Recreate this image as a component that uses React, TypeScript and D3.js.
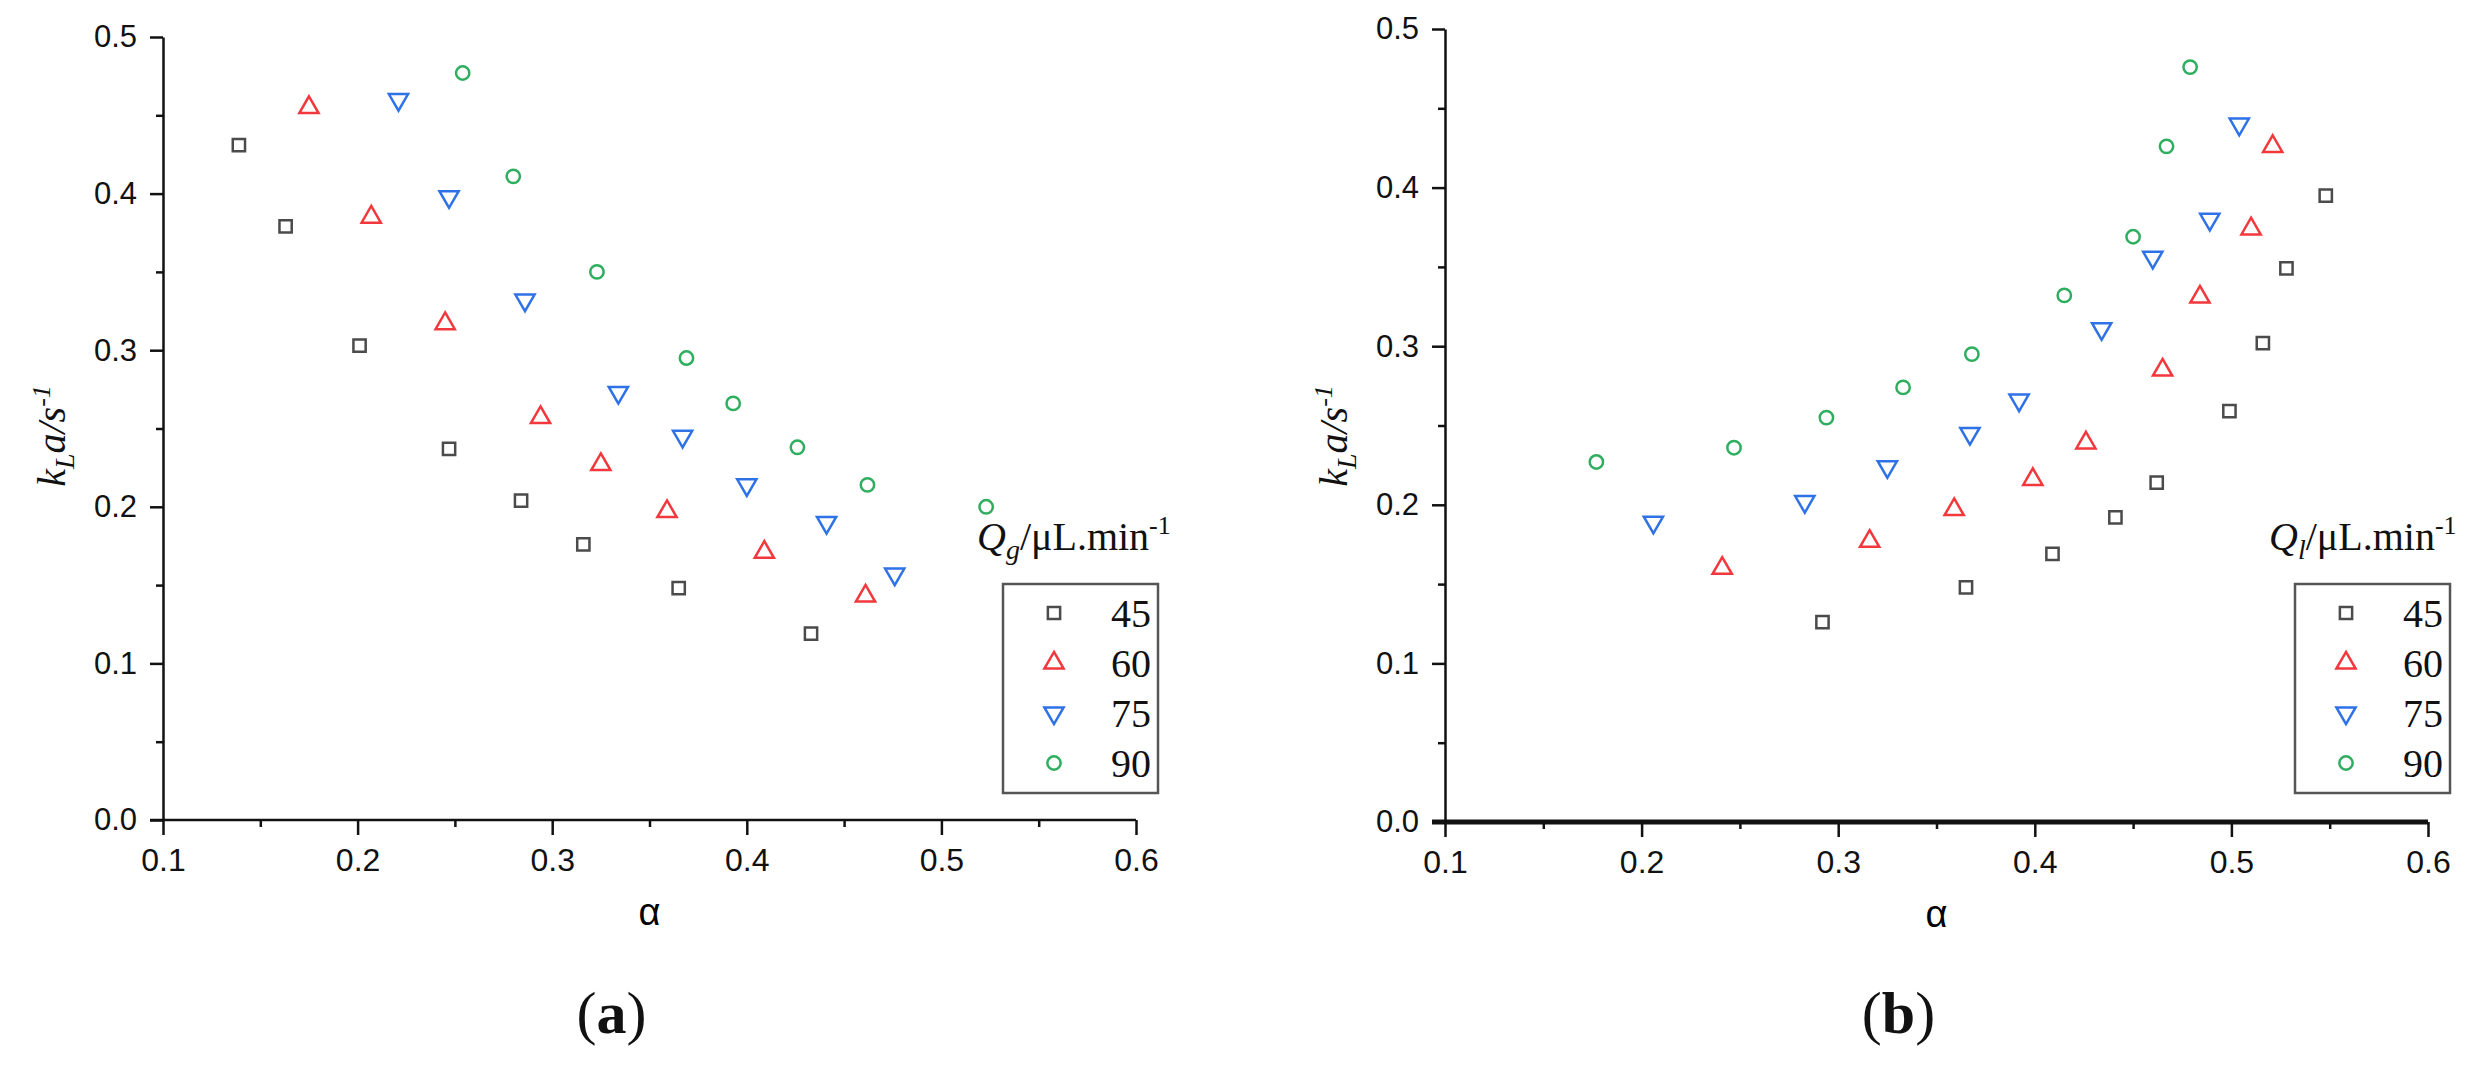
import React, { useRef, useEffect } from 'react';
import * as d3 from 'd3';

// Series names / legend entries (flow rate, µL/min)
const seriesNames = ['45', '60', '75', '90'];
const seriesColors = ['#4b4b4b', '#f2383c', '#2f72e8', '#2fae5f'];

// Axis ticks
const xTickValues = [0.1, 0.2, 0.3, 0.4, 0.5, 0.6];
const xMinorValues = [0.15, 0.25, 0.35, 0.45, 0.55];
const yTickValues = [0, 0.1, 0.2, 0.3, 0.4, 0.5];
const yMinorValues = [0.05, 0.15, 0.25, 0.35, 0.45];

// Panel (a): varying Qg
const aAlpha45 = [0.139, 0.163, 0.201, 0.247, 0.284, 0.316, 0.365, 0.433];
const aKla45 = [0.431, 0.379, 0.303, 0.237, 0.204, 0.176, 0.148, 0.119];
const aAlpha60 = [0.175, 0.207, 0.245, 0.294, 0.325, 0.359, 0.409, 0.461];
const aKla60 = [0.455, 0.385, 0.317, 0.257, 0.227, 0.197, 0.171, 0.143];
const aAlpha75 = [0.221, 0.247, 0.286, 0.334, 0.367, 0.4, 0.441, 0.476];
const aKla75 = [0.46, 0.398, 0.332, 0.273, 0.245, 0.214, 0.19, 0.157];
const aAlpha90 = [0.254, 0.28, 0.323, 0.369, 0.393, 0.426, 0.462, 0.523];
const aKla90 = [0.477, 0.411, 0.35, 0.295, 0.266, 0.238, 0.214, 0.2];

// Panel (b): varying Ql
const bAlpha45 = [0.292, 0.365, 0.409, 0.441, 0.462, 0.499, 0.516, 0.528, 0.548];
const bKla45 = [0.126, 0.148, 0.169, 0.192, 0.214, 0.259, 0.302, 0.349, 0.395];
const bAlpha60 = [0.241, 0.316, 0.359, 0.399, 0.426, 0.465, 0.484, 0.51, 0.521];
const bKla60 = [0.16, 0.177, 0.197, 0.216, 0.239, 0.285, 0.331, 0.374, 0.426];
const bAlpha75 = [0.206, 0.283, 0.325, 0.367, 0.392, 0.434, 0.46, 0.489, 0.504];
const bKla75 = [0.189, 0.202, 0.224, 0.245, 0.266, 0.311, 0.356, 0.38, 0.44];
const bAlpha90 = [0.177, 0.247, 0.294, 0.333, 0.368, 0.415, 0.45, 0.467, 0.479];
const bKla90 = [0.227, 0.236, 0.255, 0.274, 0.295, 0.332, 0.369, 0.426, 0.476];

const SANS = '"Liberation Sans", Arial, sans-serif';
const SERIF = '"Liberation Serif", "Times New Roman", serif';

const symbolPath = (i: number) => {
  if (i === 0) return d3.symbol(d3.symbolSquare, 150)();
  if (i === 3) return d3.symbol(d3.symbolCircle, 140)();
  return d3.symbol(d3.symbolTriangle, 160)();
};

const Panel = ({ left, right, top, bottom, xs, ys, sub, label, xAxisWidth }) => {
  const gRef = useRef(null);

  useEffect(() => {
    const g = d3.select(gRef.current);
    g.selectAll('*').remove();

    const x = d3.scaleLinear().domain([0.1, 0.6]).range([left, right]);
    const y = d3.scaleLinear().domain([0, 0.5]).range([bottom, top]);

    // minor ticks
    g.append('g')
      .attr('transform', `translate(0,${bottom})`)
      .call(d3.axisBottom(x).tickValues(xMinorValues).tickSize(7).tickSizeOuter(0).tickFormat(() => ''))
      .call(s => s.select('.domain').remove())
      .selectAll('line').attr('stroke', '#111').attr('stroke-width', 2.5);
    g.append('g')
      .attr('transform', `translate(${left},0)`)
      .call(d3.axisLeft(y).tickValues(yMinorValues).tickSize(7).tickSizeOuter(0).tickFormat(() => ''))
      .call(s => s.select('.domain').remove())
      .selectAll('line').attr('stroke', '#111').attr('stroke-width', 2.5);

    // Y axis
    const yAx = g.append('g')
      .attr('transform', `translate(${left},0)`)
      .call(d3.axisLeft(y).tickValues(yTickValues).tickSize(13).tickSizeOuter(0).tickPadding(13).tickFormat(d3.format('.1f')));
    yAx.select('.domain').attr('stroke', '#111').attr('stroke-width', 2.5);
    yAx.selectAll('line').attr('stroke', '#111').attr('stroke-width', 2.5);
    yAx.selectAll('text').style('font-family', SANS).style('font-size', '31px').attr('fill', '#111');

    // X axis
    const xAx = g.append('g')
      .attr('transform', `translate(0,${bottom})`)
      .call(d3.axisBottom(x).tickValues(xTickValues).tickSize(15).tickSizeOuter(0).tickPadding(13).tickFormat(d3.format('.1f')));
    xAx.select('.domain').attr('stroke', '#111').attr('stroke-width', xAxisWidth)
      .attr('d', `M${left - 13},0H${right}`);
    xAx.selectAll('line').attr('stroke', '#111').attr('stroke-width', 2.5);
    xAx.selectAll('text').style('font-family', SANS).style('font-size', '32px').attr('fill', '#111');

    // axis titles
    g.append('text')
      .attr('x', (left + right) / 2).attr('y', bottom + 105)
      .attr('text-anchor', 'middle')
      .style('font-family', SANS).style('font-size', '38px')
      .text('α');

    const yt = g.append('text')
      .attr('transform', `translate(${left - 98},436) rotate(-90)`)
      .attr('text-anchor', 'middle')
      .style('font-family', SERIF).style('font-style', 'italic').style('font-size', '40px')
      .attr('fill', '#111');
    yt.append('tspan').text('k');
    yt.append('tspan').attr('dy', 9).style('font-size', '28px').text('L');
    yt.append('tspan').attr('dy', -9).text('a/s');
    yt.append('tspan').attr('dy', -15).style('font-size', '26px').text('-1');

    // points
    xs.forEach((xv, i) => {
      const pts = xv.map((v, j) => [v, ys[i][j]]);
      g.append('g').selectAll('path')
        .data(pts)
        .join('path')
        .attr('d', symbolPath(i))
        .attr('transform', d => `translate(${x(d[0])},${y(d[1])})${i === 2 ? ' rotate(180)' : ''}`)
        .attr('fill', 'none')
        .attr('stroke', seriesColors[i])
        .attr('stroke-width', 2.5);
    });

    // legend
    const lt = g.append('text')
      .attr('x', right - 159).attr('y', 550)
      .style('font-family', SERIF).style('font-size', '40px').attr('fill', '#111');
    lt.append('tspan').style('font-style', 'italic').text('Q');
    lt.append('tspan').attr('dy', 9).style('font-style', 'italic').style('font-size', '28px').text(sub);
    lt.append('tspan').attr('dy', -9).text('/μL.min');
    lt.append('tspan').attr('dy', -16).style('font-size', '26px').text('-1');

    g.append('rect')
      .attr('x', right - 133).attr('y', 584)
      .attr('width', 155).attr('height', 209)
      .attr('fill', 'white').attr('stroke', '#555').attr('stroke-width', 2.5);

    const rows = g.append('g').selectAll('g')
      .data(seriesNames)
      .join('g')
      .attr('transform', (d, i) => `translate(0,${613 + i * 50})`);
    rows.append('path')
      .attr('d', (d, i) => symbolPath(i))
      .attr('transform', (d, i) => `translate(${right - 82},0)${i === 2 ? ' rotate(180)' : ''}`)
      .attr('fill', 'none')
      .attr('stroke', (d, i) => seriesColors[i])
      .attr('stroke-width', 2.5);
    rows.append('text')
      .attr('x', right + 15).attr('y', 14)
      .attr('text-anchor', 'end')
      .style('font-family', SERIF).style('font-size', '40px').attr('fill', '#111')
      .text(d => d);

    // panel label
    const pl = g.append('text')
      .attr('x', (left + right) / 2 - 38).attr('y', 1033)
      .attr('text-anchor', 'middle')
      .style('font-family', SERIF).style('font-size', '60px').attr('fill', '#111');
    pl.append('tspan').text('(');
    pl.append('tspan').style('font-weight', 'bold').text(label);
    pl.append('tspan').text(')');
  }, []);

  return <g ref={gRef}></g>;
};

const App = () => {
  return (
    <svg width={2479} height={1066} style={{ position: 'absolute', left: 0, top: 0, background: 'white' }}>
      <Panel left={163} right={1136} top={37} bottom={820}
        xs={[aAlpha45, aAlpha60, aAlpha75, aAlpha90]}
        ys={[aKla45, aKla60, aKla75, aKla90]}
        sub="g" label="a" xAxisWidth={2.5} />
      <Panel left={1445} right={2428} top={29} bottom={822}
        xs={[bAlpha45, bAlpha60, bAlpha75, bAlpha90]}
        ys={[bKla45, bKla60, bKla75, bKla90]}
        sub="l" label="b" xAxisWidth={5} />
    </svg>
  );
};

export default App;
